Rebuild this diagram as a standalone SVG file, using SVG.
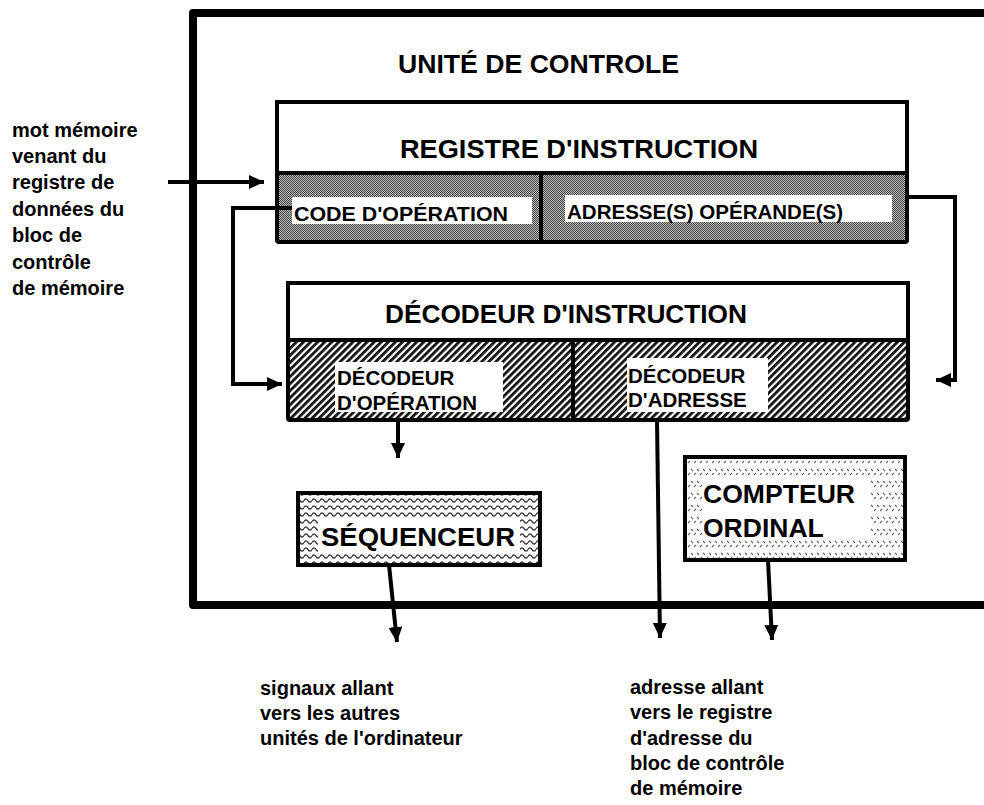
<svg xmlns="http://www.w3.org/2000/svg" width="984" height="805" viewBox="0 0 984 805">
  <defs>
    <!-- fine dithered grey for the register fields -->
    <pattern id="dots" width="2" height="2" patternUnits="userSpaceOnUse">
      <rect width="2" height="2" fill="#bcbcbc"/>
      <rect x="0" y="0" width="1" height="1" fill="#444"/>
      <rect x="1" y="1" width="1" height="1" fill="#444"/>
    </pattern>
    <!-- diagonal hatching for the decoder fields -->
    <pattern id="hatch" width="5" height="5" patternUnits="userSpaceOnUse" patternTransform="rotate(45)">
      <rect width="5" height="5" fill="#ffffff"/>
      <rect x="0" y="0" width="2.8" height="5" fill="#111"/>
    </pattern>
    <!-- wavy lines for the sequencer -->
    <pattern id="wave" width="8" height="7" patternUnits="userSpaceOnUse">
      <rect width="8" height="7" fill="#ffffff"/>
      <path d="M0 3.5 Q2 0.5 4 3.5 T8 3.5" fill="none" stroke="#444" stroke-width="1.5"/>
    </pattern>
    <!-- scattered dashes for the program counter -->
    <pattern id="dash" width="12" height="12" patternUnits="userSpaceOnUse">
      <rect width="12" height="12" fill="#ffffff"/>
      <path d="M1 1 l2 2 M7 1 l2 2 M4 7 l2 -2 M10 7 l2 -2" fill="none" stroke="#666" stroke-width="1.1"/>
    </pattern>
    <marker id="arrow" markerUnits="userSpaceOnUse" markerWidth="16" markerHeight="14" refX="15" refY="7" orient="auto">
      <path d="M0 0 L15 7 L0 14 Z" fill="#000"/>
    </marker>
    <style>
      .box { stroke: #000; stroke-width: 4; }
      .wire { fill: none; stroke: #000; stroke-width: 4; }
      .t { font-family: "Liberation Sans", Arial, sans-serif; font-weight: bold; fill: #000; }
      .big { font-size: 26px; }
      .mid { font-size: 20.5px; }
      .lbl { font-size: 20px; }
      .box-lbl { font-size: 26.5px; }
    </style>
  </defs>

  <rect width="984" height="805" fill="#fff"/>

  <!-- control unit frame -->
  <g id="unite-de-controle">
    <path d="M990 13 L193 13 L193 605 L990 605" fill="none" stroke="#000" stroke-width="8" stroke-linejoin="round"/>
    <text class="t big" x="398" y="73" textLength="281" lengthAdjust="spacingAndGlyphs">UNITÉ DE CONTROLE</text>
  </g>

  <!-- instruction register -->
  <g id="registre-instruction">
    <rect x="277" y="173" width="630" height="69" fill="url(#dots)"/>
    <rect class="box" x="277" y="102" width="630" height="140" rx="2" fill="none"/>
    <rect x="277" y="102" width="630" height="71" fill="#fff" class="box"/>
    <line x1="541" y1="173" x2="541" y2="240" stroke="#000" stroke-width="4"/>
    <text class="t big" x="400" y="158" textLength="358" lengthAdjust="spacingAndGlyphs">REGISTRE D'INSTRUCTION</text>
    <rect x="292" y="197" width="240" height="27" fill="#fff"/>
    <text class="t mid" x="294" y="221" textLength="214" lengthAdjust="spacingAndGlyphs">CODE D'OPÉRATION</text>
    <rect x="565" y="195" width="327" height="27" fill="#fff"/>
    <text class="t mid" x="567" y="219" textLength="276" lengthAdjust="spacingAndGlyphs">ADRESSE(S) OPÉRANDE(S)</text>
  </g>

  <!-- instruction decoder -->
  <g id="decodeur-instruction">
    <rect x="288" y="340" width="620" height="80" fill="url(#hatch)"/>
    <rect class="box" x="288" y="283" width="620" height="137" rx="2" fill="none"/>
    <rect class="box" x="288" y="283" width="620" height="57" fill="#fff"/>
    <line x1="573" y1="340" x2="573" y2="420" stroke="#000" stroke-width="4"/>
    <text class="t big" x="385" y="323" textLength="362" lengthAdjust="spacingAndGlyphs">DÉCODEUR D'INSTRUCTION</text>
    <rect x="335" y="362" width="168" height="50" fill="#fff"/>
    <text class="t mid" x="337" y="385">DÉCODEUR</text>
    <text class="t mid" x="337" y="410">D'OPÉRATION</text>
    <rect x="627" y="358" width="141" height="54" fill="#fff"/>
    <text class="t mid" x="628" y="383">DÉCODEUR</text>
    <text class="t mid" x="628" y="407">D'ADRESSE</text>
  </g>

  <!-- sequencer -->
  <g id="sequenceur">
    <rect class="box" x="298" y="493" width="242" height="72" fill="url(#wave)"/>
    <rect x="318" y="519" width="202" height="33" fill="#fff"/>
    <text class="t box-lbl" x="321" y="546" textLength="194" lengthAdjust="spacingAndGlyphs">SÉQUENCEUR</text>
  </g>

  <!-- program counter -->
  <g id="compteur-ordinal">
    <rect class="box" x="685" y="457" width="220" height="103" fill="url(#dash)"/>
    <rect x="702" y="475" width="168" height="65" fill="#fff"/>
    <text class="t box-lbl" x="703" y="503" textLength="152" lengthAdjust="spacingAndGlyphs">COMPTEUR</text>
    <text class="t box-lbl" x="703" y="537">ORDINAL</text>
  </g>

  <!-- side notes -->
  <g id="note-entree" class="t lbl">
    <text x="12" y="137">mot mémoire</text>
    <text x="12" y="163">venant du</text>
    <text x="12" y="189">registre de</text>
    <text x="12" y="216">données du</text>
    <text x="12" y="242">bloc de</text>
    <text x="12" y="269">contrôle</text>
    <text x="12" y="295">de mémoire</text>
  </g>
  <g id="note-signaux" class="t lbl">
    <text x="260" y="695">signaux allant</text>
    <text x="260" y="720">vers les autres</text>
    <text x="260" y="745">unités de l'ordinateur</text>
  </g>
  <g id="note-adresse" class="t lbl">
    <text x="630" y="694">adresse allant</text>
    <text x="630" y="719">vers le registre</text>
    <text x="630" y="745">d'adresse du</text>
    <text x="630" y="770">bloc de contrôle</text>
    <text x="630" y="795">de mémoire</text>
  </g>

  <!-- connectors -->
  <g id="connecteurs">
    <line class="wire" x1="168" y1="182" x2="264" y2="182" marker-end="url(#arrow)"/>
    <polyline class="wire" points="292,208 233,208 233,384 282,384" marker-end="url(#arrow)"/>
    <polyline class="wire" points="907,197 955,197 955,380 936,380" marker-end="url(#arrow)"/>
    <line class="wire" x1="398" y1="420" x2="398" y2="458" marker-end="url(#arrow)"/>
    <line class="wire" x1="657" y1="420" x2="660" y2="638" marker-end="url(#arrow)"/>
    <line class="wire" x1="389" y1="565" x2="397" y2="642" marker-end="url(#arrow)"/>
    <line class="wire" x1="768" y1="560" x2="772" y2="640" marker-end="url(#arrow)"/>
  </g>
</svg>
